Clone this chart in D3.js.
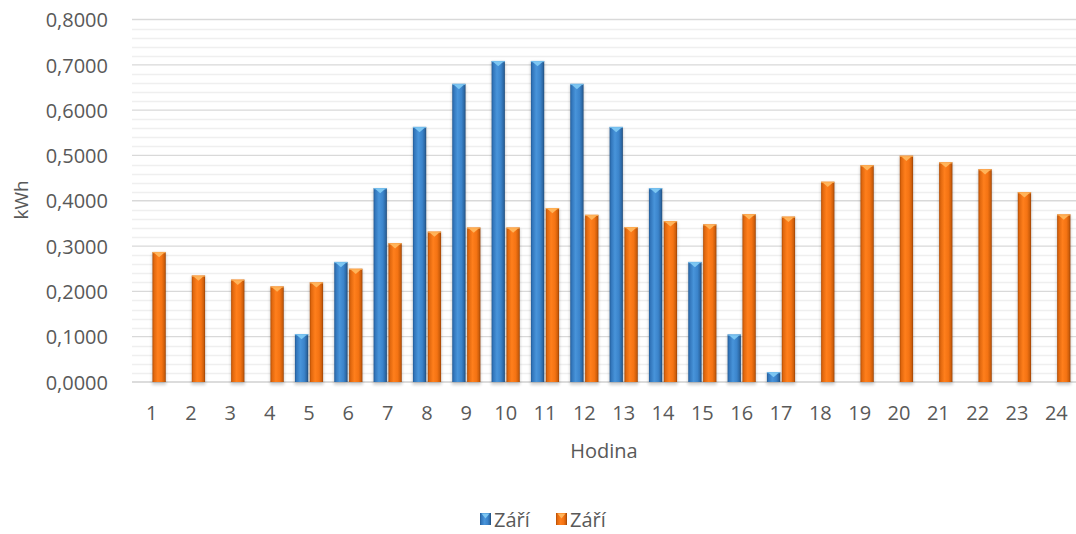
<!DOCTYPE html>
<html>
<head>
<meta charset="utf-8">
<script src="https://cdn.jsdelivr.net/npm/d3@7"></script>
<style>
  html, body { margin: 0; padding: 0; background: #fff; }
  svg { display: block; }
  text { font-family: "Open Sans", "Noto Sans", sans-serif; fill: #595959; }
</style>
</head>
<body>
<svg id="chart" width="1076" height="534"></svg>
<script>
// Hourly energy, kWh
const hours = ["1","2","3","4","5","6","7","8","9","10","11","12","13","14","15","16","17","18","19","20","21","22","23","24"];
const seriesNames = ["Září", "Září"];
const seriesA = [0, 0, 0, 0, 0.1058, 0.265, 0.428, 0.563, 0.658, 0.7085, 0.7085, 0.658, 0.563, 0.428, 0.265, 0.105, 0.022, 0, 0, 0, 0, 0, 0, 0];
const seriesB = [0.287, 0.235, 0.226, 0.211, 0.220, 0.250, 0.3065, 0.332, 0.341, 0.341, 0.384, 0.369, 0.342, 0.355, 0.348, 0.3705, 0.365, 0.442, 0.4785, 0.4995, 0.485, 0.4697, 0.419, 0.370];
const yTicks = [0, 0.1, 0.2, 0.3, 0.4, 0.5, 0.6, 0.7, 0.8];
const yMinorStep = 0.02;

const svg = d3.select("#chart");
const margin = { left: 132, right: 0, top: 19.5, bottom: 152 };
const W = 1076, H = 534;
const plotW = W - margin.left - margin.right;
const plotH = H - margin.top - margin.bottom;

const x = d3.scaleBand().domain(hours).range([margin.left, margin.left + plotW]).paddingInner(0).paddingOuter(0);
const y = d3.scaleLinear().domain([0, 0.8]).range([margin.top + plotH, margin.top]);

const fmt = v => d3.format(".4f")(v).replace(".", ",");

// gradients for the bevelled bars
const defs = svg.append("defs");
function grad(id, stops) {
  const g = defs.append("linearGradient").attr("id", id).attr("x1", "0%").attr("x2", "100%").attr("y1", "0%").attr("y2", "0%");
  stops.forEach(([o, c]) => g.append("stop").attr("offset", o).attr("stop-color", c));
}
grad("gBlue", [["0%", "#225a95"], ["12%", "#3276bb"], ["40%", "#4894da"], ["70%", "#3b84cb"], ["90%", "#2c67a3"], ["100%", "#1f4b79"]]);
grad("gOrange", [["0%", "#b04c04"], ["12%", "#e0670e"], ["40%", "#ff7f1c"], ["70%", "#f47313"], ["90%", "#cc5d0a"], ["100%", "#983f03"]]);
const shadow = defs.append("filter").attr("id", "soft").attr("x", "-50%").attr("y", "-50%").attr("width", "200%").attr("height", "200%");
shadow.append("feGaussianBlur").attr("stdDeviation", 1.6);

// minor gridlines
const minor = d3.range(0, 0.8 + 1e-9, yMinorStep).filter(v => Math.abs(v * 10 - Math.round(v * 10)) > 1e-6);
svg.append("g").selectAll("line").data(minor).join("line")
  .attr("x1", margin.left).attr("x2", margin.left + plotW)
  .attr("y1", d => Math.round(y(d)) + 0.5).attr("y2", d => Math.round(y(d)) + 0.5)
  .attr("stroke", "#efefef").attr("stroke-width", 1.4);

// major gridlines
svg.append("g").selectAll("line").data(yTicks).join("line")
  .attr("x1", margin.left).attr("x2", margin.left + plotW)
  .attr("y1", d => y(d)).attr("y2", d => y(d))
  .attr("stroke", d => d === 0 ? "#d0d0d0" : "#d9d9d9").attr("stroke-width", d => d === 0 ? 1.6 : 1.3);

// y axis labels
const yAxis = d3.axisLeft(y).tickValues(yTicks).tickFormat(fmt).tickSize(0).tickPadding(0);
const ya = svg.append("g").attr("transform", `translate(${108},0)`).call(yAxis);
ya.select(".domain").remove();
ya.selectAll("text").attr("font-size", 20).attr("fill", "#595959").attr("font-family", "Open Sans").attr("dy", "0.36em").attr("x", 0);

// x axis labels
const xAxis = d3.axisBottom(x).tickSize(0).tickPadding(0);
const xa = svg.append("g").attr("transform", `translate(0,${y(0)})`).call(xAxis);
xa.select(".domain").remove();
xa.selectAll("text").attr("font-size", 20).attr("fill", "#595959").attr("font-family", "Open Sans").attr("y", 38).attr("dy", 0);

// axis titles
svg.append("text").attr("x", 604).attr("y", 458).attr("text-anchor", "middle").attr("font-size", 20).text("Hodina");
svg.append("text").attr("transform", "translate(28,200) rotate(-90)").attr("text-anchor", "middle").attr("font-size", 19).text("kWh");

// bars
const bw = x.bandwidth() * 0.338;
const gap = x.bandwidth() * 0.04;
const series = [
  { vals: seriesA, fill: "url(#gBlue)", cap: "#7cc6f2", off: -gap / 2 - bw },
  { vals: seriesB, fill: "url(#gOrange)", cap: "#ffb45a", off: gap / 2 }
];

series.forEach(s => {
  const g = svg.append("g");
  const data = hours.map((h, i) => ({ h, v: s.vals[i] })).filter(d => d.v > 0);
  const cx = d => x(d.h) + x.bandwidth() / 2 + s.off;
  // soft shadow
  g.selectAll("rect.sh").data(data).join("rect").attr("class", "sh")
    .attr("x", d => cx(d) - 0.5).attr("width", bw + 1)
    .attr("y", d => y(d.v) + 1).attr("height", d => y(0) - y(d.v) + 2)
    .attr("fill", "#000").attr("opacity", 0.18).attr("filter", "url(#soft)");
  g.selectAll("rect.bar").data(data).join("rect").attr("class", "bar")
    .attr("x", cx).attr("width", bw)
    .attr("y", d => y(d.v)).attr("height", d => y(0) - y(d.v))
    .attr("fill", s.fill);
  // bevelled cap: thin light edge plus a lighter triangle
  g.selectAll("rect.capline").data(data).join("rect").attr("class", "capline")
    .attr("x", cx).attr("width", bw).attr("y", d => y(d.v)).attr("height", 1.2)
    .attr("fill", s.cap).attr("opacity", 0.85);
  g.selectAll("path.cap").data(data).join("path").attr("class", "cap")
    .attr("d", d => {
      const x0 = cx(d), yt = y(d.v) + 0.8;
      const hgt = Math.min(4.5, (y(0) - y(d.v)) - 1);
      return `M${x0 + 1.5},${yt}L${x0 + bw - 1.5},${yt}L${x0 + bw / 2},${yt + hgt}Z`;
    })
    .attr("fill", s.cap);
});

// legend
const leg = svg.append("g");
const legItems = [
  { name: seriesNames[0], fill: "url(#gBlue)", cap: "#7cc6f2", x: 480 },
  { name: seriesNames[1], fill: "url(#gOrange)", cap: "#ffb45a", x: 556 }
];
legItems.forEach(it => {
  leg.append("rect").attr("x", it.x).attr("y", 513).attr("width", 11).attr("height", 12).attr("fill", it.fill);
  leg.append("path").attr("d", `M${it.x + 1.5},${513.5}L${it.x + 9.5},${513.5}L${it.x + 5.5},${518.5}Z`).attr("fill", it.cap);
  leg.append("text").attr("x", it.x + 14).attr("y", 527).attr("font-size", 20).text(it.name);
});
</script>
</body>
</html>
